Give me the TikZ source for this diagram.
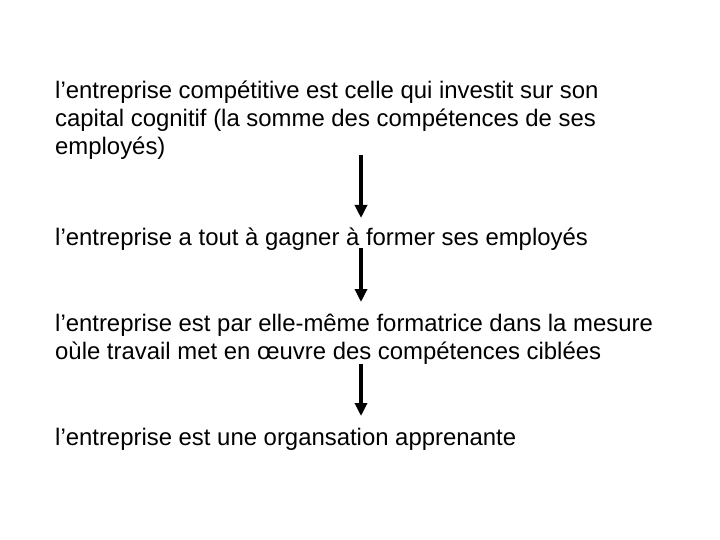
\documentclass[tikz,border=0pt]{standalone}
\usepackage{fontspec}
\setmainfont{Liberation Sans}
\usetikzlibrary{arrows.meta}
\begin{document}
\begin{tikzpicture}[x=1pt,y=1pt,
  txt/.style={anchor=base west,inner sep=0pt,align=left,font=\fontsize{23.9}{28}\selectfont},
  arr/.style={line width=3.5pt,-{Triangle[width=12pt,length=13pt]}}]
\useasboundingbox (0,0) rectangle (720,-540);
\node[txt] (b1) at (55,-155) {l’entreprise compétitive est celle qui investit sur son\\capital cognitif (la somme des compétences de ses\\employés)};
\node[txt] (b2) at (55,-245) {l’entreprise a tout à gagner à former ses employés};
\node[txt] (b3) at (55,-359) {l’entreprise est par elle-même formatrice dans la mesure\\oùle travail met en œuvre des compétences ciblées};
\node[txt] (b4) at (55,-445) {l’entreprise est une organsation apprenante};
\coordinate (a1s) at (361,-155);
\coordinate (a1e) at (361,-218);
\coordinate (a2s) at (361,-248);
\coordinate (a2e) at (361,-302);
\coordinate (a3s) at (361,-364);
\coordinate (a3e) at (361,-416);
\draw[arr] (a1s) -- (a1e);
\draw[arr] (a2s) -- (a2e);
\draw[arr] (a3s) -- (a3e);
\end{tikzpicture}
\end{document}
